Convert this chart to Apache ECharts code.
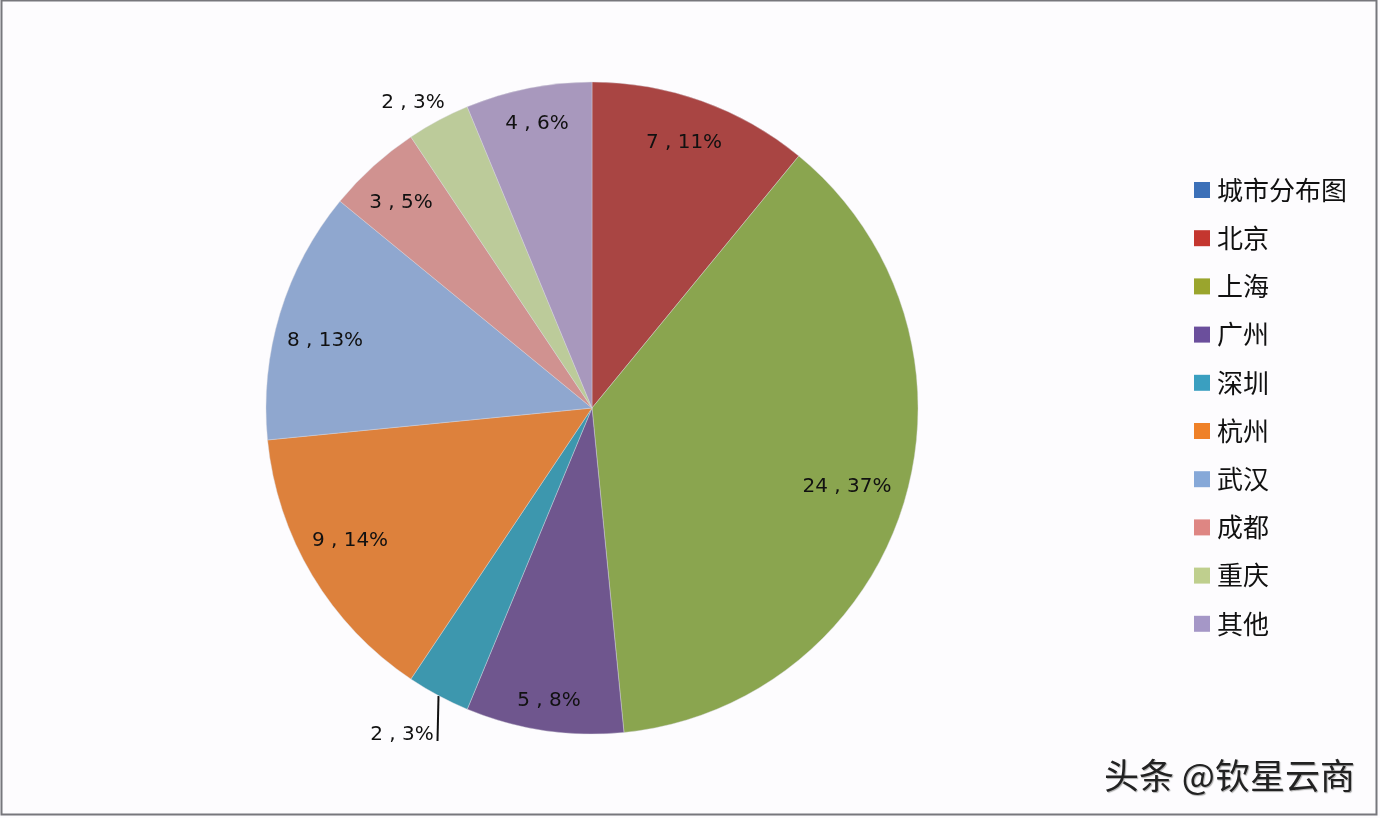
<!DOCTYPE html>
<html>
<head>
<meta charset="utf-8">
<style>
html, body { margin: 0; padding: 0; background: #fdfcfe; }
#main { width: 1380px; height: 818px; }
</style>
<script src="https://cdn.jsdelivr.net/npm/echarts@6/dist/echarts.min.js"></script>
</head>
<body>
<div id="main"></div>
<script>
var cities = ['城市分布图', '北京', '上海', '广州', '深圳', '杭州', '武汉', '成都', '重庆', '其他'];
var counts = [0, 7, 24, 5, 2, 9, 8, 3, 2, 4];
var percents = [0, 11, 37, 8, 3, 14, 13, 5, 3, 6];

var sliceColors = ['#3f72b5', '#a94543', '#8aa54f', '#6f568e', '#3d97ae', '#dd813c', '#8fa7cf', '#d09290', '#bccb9a', '#a898bd'];
var legendColors = ['#3c70b8', '#c4362f', '#9aa52d', '#6b4f9c', '#3a9fc0', '#ef8128', '#86a8d8', '#de8683', '#bfcf8e', '#a597c7'];
var labelSpots = [null, [684, 143], [847, 487], [549, 701], [402, 735], [350, 541], [325, 341], [401, 203], [413, 103], [537, 124]];

var myChart = echarts.init(document.getElementById('main'));

var pieData = [];
var legendData = [];
for (var i = 0; i < cities.length; i++) {
    pieData.push({
        name: cities[i],
        value: counts[i],
        itemStyle: { color: sliceColors[i] },
        label: { show: counts[i] > 0 }
    });
    legendData.push({
        name: cities[i],
        itemStyle: { color: legendColors[i], borderWidth: 0 }
    });
}

var option = {
    backgroundColor: '#fdfcfe',
    animation: false,
    legend: {
        orient: 'vertical',
        left: 1189,
        top: 169,
        itemWidth: 16,
        itemHeight: 16,
        itemGap: 16.2,
        icon: 'rect',
        selectedMode: false,
        data: legendData,
        textStyle: {
            fontFamily: 'Noto Sans CJK SC',
            fontSize: 26,
            lineHeight: 32,
            color: '#111',
            padding: [0, 0, 0, 2]
        }
    },
    series: [{
        type: 'pie',
        center: [592, 408],
        radius: [0, 326],
        startAngle: 90,
        clockwise: true,
        minShowLabelAngle: 0,
        data: pieData,
        itemStyle: { borderColor: '#d8d8e0', borderWidth: 0.4 },
        labelLine: { show: false },
        label: {
            position: 'inside',
            fontFamily: 'DejaVu Sans',
            fontSize: 20,
            color: '#111',
            formatter: function (p) {
                return p.value + ' , ' + percents[p.dataIndex] + '%';
            }
        },
        labelLayout: function (p) {
            var s = labelSpots[p.dataIndex];
            if (!s) return {};
            return { x: s[0], y: s[1], align: 'center', verticalAlign: 'middle' };
        },
        emphasis: { disabled: true }
    }],
    graphic: [{
        type: 'rect',
        silent: true,
        z: -1,
        shape: { x: 1.5, y: 0.5, width: 1375, height: 814 },
        style: { fill: 'none', stroke: '#77777c', lineWidth: 2 }
    }, {
        type: 'line',
        silent: true,
        shape: { x1: 438.5, y1: 696, x2: 437.5, y2: 741 },
        style: { stroke: '#111', lineWidth: 2 }
    }, {
        type: 'text',
        silent: true,
        left: 1104,
        top: 758,
        style: {
            text: '头条 @钦星云商',
            fontFamily: 'Noto Sans CJK SC',
            fontSize: 35,
            fill: '#222',
            textShadowColor: '#aaa',
            textShadowBlur: 1,
            textShadowOffsetX: 1,
            textShadowOffsetY: 1
        }
    }]
};

myChart.setOption(option);
</script>
</body>
</html>
